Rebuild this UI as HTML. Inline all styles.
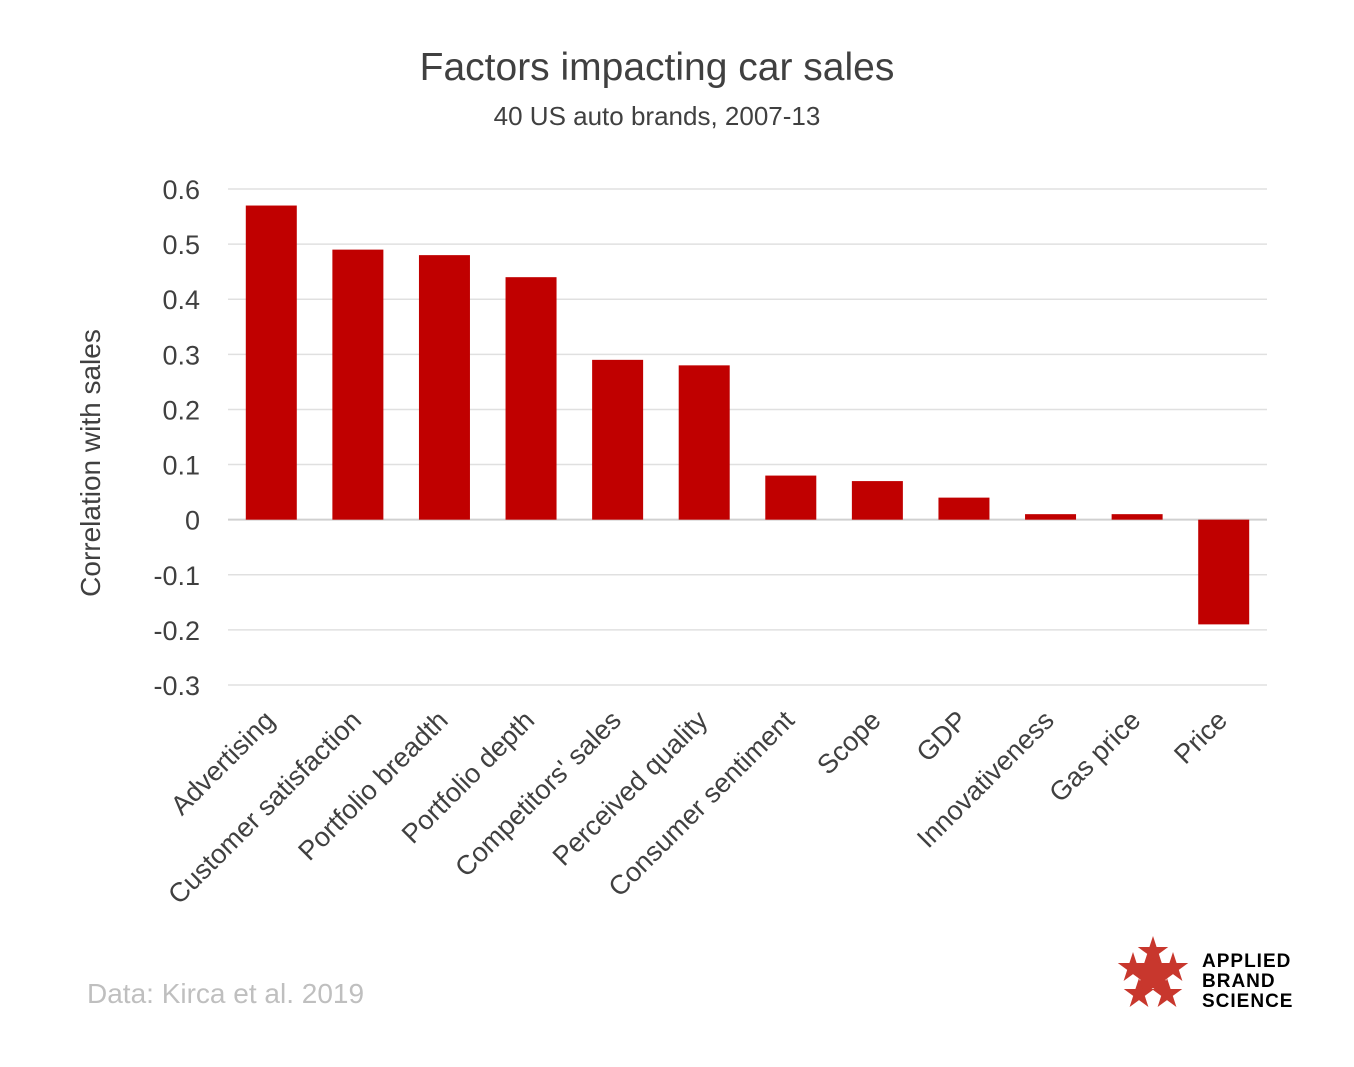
<!DOCTYPE html>
<html><head><meta charset="utf-8">
<style>
body{margin:0;background:#fff;width:1354px;height:1062px;overflow:hidden;font-family:"Liberation Sans",sans-serif;}
</style></head>
<body>
<svg id="chart" width="1354" height="1062" xmlns="http://www.w3.org/2000/svg" font-family="Liberation Sans, sans-serif">
<text x="657" y="80" text-anchor="middle" font-size="39" fill="#404040">Factors impacting car sales</text>
<text x="657" y="125" text-anchor="middle" font-size="26" fill="#404040">40 US auto brands, 2007-13</text>
<text transform="translate(100,463) rotate(-90)" text-anchor="middle" font-size="28" fill="#404040">Correlation with sales</text>
<g id="grid"></g><g id="bars"></g><g id="xl"></g>
<text x="87" y="1003" font-size="28" fill="#bfbfbf">Data: Kirca et al. 2019</text>
<g>
<g fill="#c8372d">
<polygon points="0,-1 0.2245,-0.309 0.951,-0.309 0.363,0.118 0.588,0.809 0,0.382 -0.588,0.809 -0.363,0.118 -0.951,-0.309 -0.2245,-0.309" transform="translate(1153,975) scale(34)"/>
<polygon points="0,-1 0.2245,-0.309 0.951,-0.309 0.363,0.118 0.588,0.809 0,0.382 -0.588,0.809 -0.363,0.118 -0.951,-0.309 -0.2245,-0.309" transform="translate(1153,952) scale(16)"/>
<polygon points="0,-1 0.2245,-0.309 0.951,-0.309 0.363,0.118 0.588,0.809 0,0.382 -0.588,0.809 -0.363,0.118 -0.951,-0.309 -0.2245,-0.309" transform="translate(1133,968) scale(16)"/>
<polygon points="0,-1 0.2245,-0.309 0.951,-0.309 0.363,0.118 0.588,0.809 0,0.382 -0.588,0.809 -0.363,0.118 -0.951,-0.309 -0.2245,-0.309" transform="translate(1173,968) scale(16)"/>
<polygon points="0,-1 0.2245,-0.309 0.951,-0.309 0.363,0.118 0.588,0.809 0,0.382 -0.588,0.809 -0.363,0.118 -0.951,-0.309 -0.2245,-0.309" transform="translate(1139,994) scale(16)"/>
<polygon points="0,-1 0.2245,-0.309 0.951,-0.309 0.363,0.118 0.588,0.809 0,0.382 -0.588,0.809 -0.363,0.118 -0.951,-0.309 -0.2245,-0.309" transform="translate(1167,994) scale(16)"/>
</g>
<text x="1202" y="967" font-size="19" font-weight="bold" letter-spacing="1" fill="#000">APPLIED</text>
<text x="1202" y="987" font-size="19" font-weight="bold" letter-spacing="1" fill="#000">BRAND</text>
<text x="1202" y="1007" font-size="19" font-weight="bold" letter-spacing="1" fill="#000">SCIENCE</text>
</g>
</svg>
<script>
const categories=["Advertising","Customer satisfaction","Portfolio breadth","Portfolio depth","Competitors' sales","Perceived quality","Consumer sentiment","Scope","GDP","Innovativeness","Gas price","Price"];
const values=[0.57,0.49,0.48,0.44,0.29,0.28,0.08,0.07,0.04,0.01,0.01,-0.19];
const ticks=[0.6,0.5,0.4,0.3,0.2,0.1,0,-0.1,-0.2,-0.3];
const tickLabels=["0.6","0.5","0.4","0.3","0.2","0.1","0","-0.1","-0.2","-0.3"];
const NS="http://www.w3.org/2000/svg";
const x0=228,x1=1267,yTop=189,yBot=685,vMax=0.6,vMin=-0.3;
const y=v=>yTop+(vMax-v)/(vMax-vMin)*(yBot-yTop);
const band=(x1-x0)/categories.length;
const xc=i=>x0+band*(i+0.5);
const g=document.getElementById('grid'),b=document.getElementById('bars'),xl=document.getElementById('xl');
ticks.forEach((t,i)=>{
 const l=document.createElementNS(NS,'line');
 
 
 l.setAttribute('x1',x0);l.setAttribute('x2',x1);l.setAttribute('y1',y(t));l.setAttribute('y2',y(t));
 l.setAttribute('stroke',t===0?'#d0d0d0':'#e0e0e0');l.setAttribute('stroke-width',t===0?2:1.5);
 g.appendChild(l);
 const tx=document.createElementNS(NS,'text');
 
 
 tx.setAttribute('x',200);tx.setAttribute('y',y(t)+10);tx.setAttribute('text-anchor','end');
 tx.setAttribute('font-size','27');tx.setAttribute('fill','#404040');tx.textContent=tickLabels[i];
 g.appendChild(tx);
});
const bw=51;
values.forEach((v,i)=>{
 const r=document.createElementNS(NS,'rect');
 
 
 r.setAttribute('x',xc(i)-bw/2);r.setAttribute('width',bw);
 r.setAttribute('y',Math.min(y(v),y(0)));r.setAttribute('height',Math.abs(y(v)-y(0)));
 r.setAttribute('fill','#c00000');b.appendChild(r);
 const t=document.createElementNS(NS,'text');
 
 
 t.setAttribute('text-anchor','end');t.setAttribute('font-size','27');t.setAttribute('fill','#404040');
 t.setAttribute('transform',`translate(${xc(i)+5},${722}) rotate(-45)`);
 t.textContent=categories[i];xl.appendChild(t);
});
</script>
</body></html>
